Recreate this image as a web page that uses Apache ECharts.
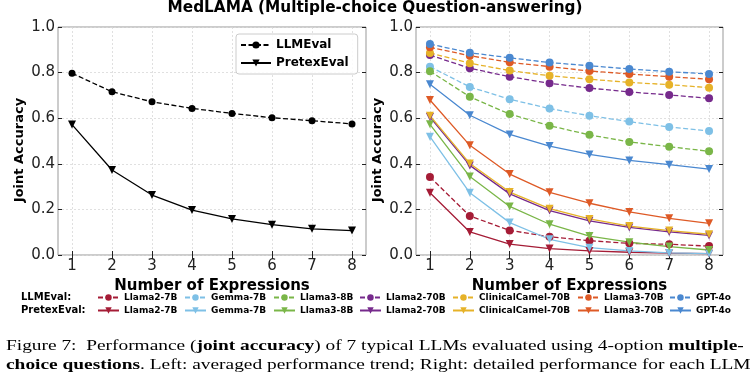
<!DOCTYPE html>
<html><head><meta charset="utf-8">
<script src="https://cdn.jsdelivr.net/npm/echarts@6/dist/echarts.min.js"></script>
<style>html,body{margin:0;padding:0;background:#fff}#c{width:750px;height:381px}</style>
</head><body><div id="c"></div>
<script>
// ---------- data ----------
const expressions = [1, 2, 3, 4, 5, 6, 7, 8];
const yTicks = [0.0, 0.2, 0.4, 0.6, 0.8, 1.0];

const avgLLMEval    = [0.797, 0.716, 0.672, 0.643, 0.621, 0.602, 0.589, 0.575];
const avgPretexEval = [0.572, 0.373, 0.263, 0.197, 0.158, 0.133, 0.115, 0.107];

const models = ['Llama2-7B', 'Gemma-7B', 'Llama3-8B', 'Llama2-70B', 'ClinicalCamel-70B', 'Llama3-70B', 'GPT-4o'];

const llmEval_Llama2_7B      = [0.342, 0.171, 0.108, 0.080, 0.063, 0.051, 0.047, 0.039];
const llmEval_Gemma_7B       = [0.826, 0.737, 0.683, 0.642, 0.611, 0.585, 0.561, 0.544];
const llmEval_Llama3_8B      = [0.806, 0.694, 0.618, 0.567, 0.527, 0.496, 0.475, 0.455];
const llmEval_Llama2_70B     = [0.877, 0.819, 0.782, 0.753, 0.732, 0.715, 0.702, 0.687];
const llmEval_ClinicalCamel  = [0.886, 0.841, 0.809, 0.786, 0.771, 0.757, 0.747, 0.734];
const llmEval_Llama3_70B     = [0.911, 0.874, 0.845, 0.826, 0.807, 0.794, 0.782, 0.771];
const llmEval_GPT4o          = [0.925, 0.887, 0.865, 0.844, 0.830, 0.816, 0.804, 0.794];

const pretexEval_Llama2_7B     = [0.273, 0.101, 0.048, 0.028, 0.018, 0.012, 0.008, 0.006];
const pretexEval_Gemma_7B      = [0.519, 0.273, 0.142, 0.069, 0.032, 0.018, 0.009, 0.006];
const pretexEval_Llama3_8B     = [0.573, 0.344, 0.213, 0.135, 0.083, 0.056, 0.037, 0.022];
const pretexEval_Llama2_70B    = [0.605, 0.393, 0.268, 0.195, 0.150, 0.121, 0.101, 0.086];
const pretexEval_ClinicalCamel = [0.611, 0.401, 0.276, 0.203, 0.158, 0.127, 0.107, 0.091];
const pretexEval_Llama3_70B    = [0.680, 0.481, 0.355, 0.275, 0.227, 0.189, 0.161, 0.139];
const pretexEval_GPT4o         = [0.749, 0.613, 0.529, 0.478, 0.441, 0.415, 0.396, 0.377];

const llmEvalByModel = [llmEval_Llama2_7B, llmEval_Gemma_7B, llmEval_Llama3_8B, llmEval_Llama2_70B, llmEval_ClinicalCamel, llmEval_Llama3_70B, llmEval_GPT4o];
const pretexEvalByModel = [pretexEval_Llama2_7B, pretexEval_Gemma_7B, pretexEval_Llama3_8B, pretexEval_Llama2_70B, pretexEval_ClinicalCamel, pretexEval_Llama3_70B, pretexEval_GPT4o];

// ---------- styles ----------
const modelColors = ['#A51C36', '#7EC0E6', '#7AB648', '#762A8C', '#E6B228', '#DE5A26', '#4A88D0'];
const legendX = [97, 184, 273, 359, 452, 577, 669];
const TRI_DOWN = 'path://M0,0L10,0L5,8.66Z';
const DASH = [5, 2.5];
const FONT = 'DejaVu Sans';

function pairs(vals) { return expressions.map((x, i) => [x, vals[i]]); }

function xAxes(gridIndex) {
  return [
    {
      type: 'value', gridIndex, min: 0.65, max: 8.35, position: 'bottom',
      axisLine: { show: false },
      axisTick: { show: true, inside: true, length: 4, customValues: expressions, lineStyle: { color: '#222' } },
      axisLabel: { customValues: expressions, margin: 4, fontSize: 15, color: '#222', fontFamily: FONT },
      splitLine: { show: true, lineStyle: { color: '#d8d8d8', type: [2, 2], width: 0.8 } },
      name: 'Number of Expressions', nameLocation: 'middle', nameGap: 15,
      nameTextStyle: { fontSize: 15, fontWeight: 'bold', color: '#000', fontFamily: FONT }
    },
    {
      type: 'value', gridIndex, min: 0.65, max: 8.35, position: 'top',
      axisLine: { show: false },
      axisTick: { show: true, inside: true, length: 4, customValues: expressions, lineStyle: { color: '#222' } },
      axisLabel: { show: false, customValues: expressions },
      splitLine: { show: false }
    }
  ];
}
function yAxes(gridIndex) {
  return [
    {
      type: 'value', gridIndex, min: 0, max: 1, interval: 0.2, position: 'left',
      axisLine: { show: false },
      axisTick: { show: true, inside: true, length: 4, lineStyle: { color: '#222' } },
      axisLabel: { margin: 3, fontSize: 15, color: '#222', fontFamily: FONT, formatter: v => v.toFixed(1) },
      splitLine: { show: true, lineStyle: { color: '#d8d8d8', type: [2, 2], width: 0.8 } }
    },
    {
      type: 'value', gridIndex, min: 0, max: 1, interval: 0.2, position: 'right',
      axisLine: { show: false },
      axisTick: { show: true, inside: true, length: 4, lineStyle: { color: '#222' } },
      axisLabel: { show: false },
      splitLine: { show: false }
    }
  ];
}

const series = [
  {
    name: 'LLMEval', type: 'line', xAxisIndex: 0, yAxisIndex: 0, data: pairs(avgLLMEval),
    symbol: 'circle', symbolSize: 7, color: '#000',
    lineStyle: { width: 1.3, type: DASH, color: '#000' }, itemStyle: { color: '#000' }
  },
  {
    name: 'PretexEval', type: 'line', xAxisIndex: 0, yAxisIndex: 0, data: pairs(avgPretexEval),
    symbol: TRI_DOWN, symbolSize: 8, color: '#000',
    lineStyle: { width: 1.3, type: 'solid', color: '#000' }, itemStyle: { color: '#000' }
  }
];
models.forEach((m, i) => {
  series.push({
    name: 'LLMEval · ' + m, type: 'line', xAxisIndex: 2, yAxisIndex: 2, data: pairs(llmEvalByModel[i]),
    symbol: 'circle', symbolSize: 8, color: modelColors[i],
    lineStyle: { width: 1.3, type: DASH, color: modelColors[i] }, itemStyle: { color: modelColors[i] }
  });
});
models.forEach((m, i) => {
  series.push({
    name: 'PretexEval · ' + m, type: 'line', xAxisIndex: 2, yAxisIndex: 2, data: pairs(pretexEvalByModel[i]),
    symbol: TRI_DOWN, symbolSize: 8, color: modelColors[i],
    lineStyle: { width: 1.3, type: 'solid', color: modelColors[i] }, itemStyle: { color: modelColors[i] }
  });
});

const legends = [{
  orient: 'vertical', left: 236, top: 34, data: ['LLMEval', 'PretexEval'],
  itemWidth: 30, itemHeight: 9, itemGap: 6, padding: [5, 9, 5, 4],
  borderColor: '#cccccc', borderWidth: 1, borderRadius: 3, backgroundColor: 'rgba(255,255,255,0.85)',
  textStyle: { fontWeight: 'bold', fontSize: 12, color: '#000', fontFamily: FONT }
}];
['LLMEval', 'PretexEval'].forEach((prefix, row) => {
  models.forEach((m, i) => {
    legends.push({
      left: legendX[i], top: 293 + row * 13, data: [prefix + ' · ' + m],
      itemWidth: 21, itemHeight: 8, padding: 0, formatter: () => m,
      textStyle: { fontWeight: 'bold', fontSize: 9, color: '#000', fontFamily: FONT }
    });
  });
});

const captionRich = {
  n: { fontFamily: 'Liberation Serif', fontSize: 15.5, fill: '#000' },
  b: { fontFamily: 'Liberation Serif', fontSize: 15.5, fontWeight: 'bold', fill: '#000' }
};
const yNameStyle = { font: 'bold 13px "DejaVu Sans"', fill: '#000', align: 'center', verticalAlign: 'middle' };

const option = {
  animation: false,
  backgroundColor: '#fff',
  title: {
    text: 'MedLAMA (Multiple-choice Question-answering)', left: 'center', top: 1, padding: 0,
    textStyle: { fontSize: 15.3, fontWeight: 'bold', color: '#000', fontFamily: FONT }
  },
  grid: [
    { left: 58, top: 27, width: 308, height: 228, show: true, borderColor: '#999', borderWidth: 1, backgroundColor: 'transparent' },
    { left: 416, top: 27, width: 307, height: 228, show: true, borderColor: '#999', borderWidth: 1, backgroundColor: 'transparent' }
  ],
  xAxis: [...xAxes(0), ...xAxes(1)],
  yAxis: [...yAxes(0), ...yAxes(1)],
  legend: legends,
  series,
  graphic: [
    { type: 'text', x: 20, y: 150, rotation: Math.PI / 2, style: Object.assign({ text: 'Joint Accuracy' }, yNameStyle) },
    { type: 'text', x: 378, y: 150, rotation: Math.PI / 2, style: Object.assign({ text: 'Joint Accuracy' }, yNameStyle) },
    { type: 'text', left: 21, top: 292, style: { text: 'LLMEval:', font: 'bold 10px "DejaVu Sans"', fill: '#000' } },
    { type: 'text', left: 21, top: 305, style: { text: 'PretexEval:', font: 'bold 10px "DejaVu Sans"', fill: '#000' } },
    {
      type: 'text', x: 6, y: 338, scaleX: 1.25,
      style: {
        text: '{n|Figure 7:  Performance (}{b|joint accuracy}{n|) of 7 typical LLMs evaluated using 4-option }{b|multiple-}',
        rich: captionRich
      }
    },
    {
      type: 'text', x: 6, y: 357, scaleX: 1.25,
      style: {
        text: '{b|choice questions}{n|. Left: averaged performance trend; Right: detailed performance for each LLM.}',
        rich: captionRich
      }
    }
  ]
};

const chart = echarts.init(document.getElementById('c'), null, { renderer: 'canvas' });
chart.setOption(option);
</script>
</body></html>
